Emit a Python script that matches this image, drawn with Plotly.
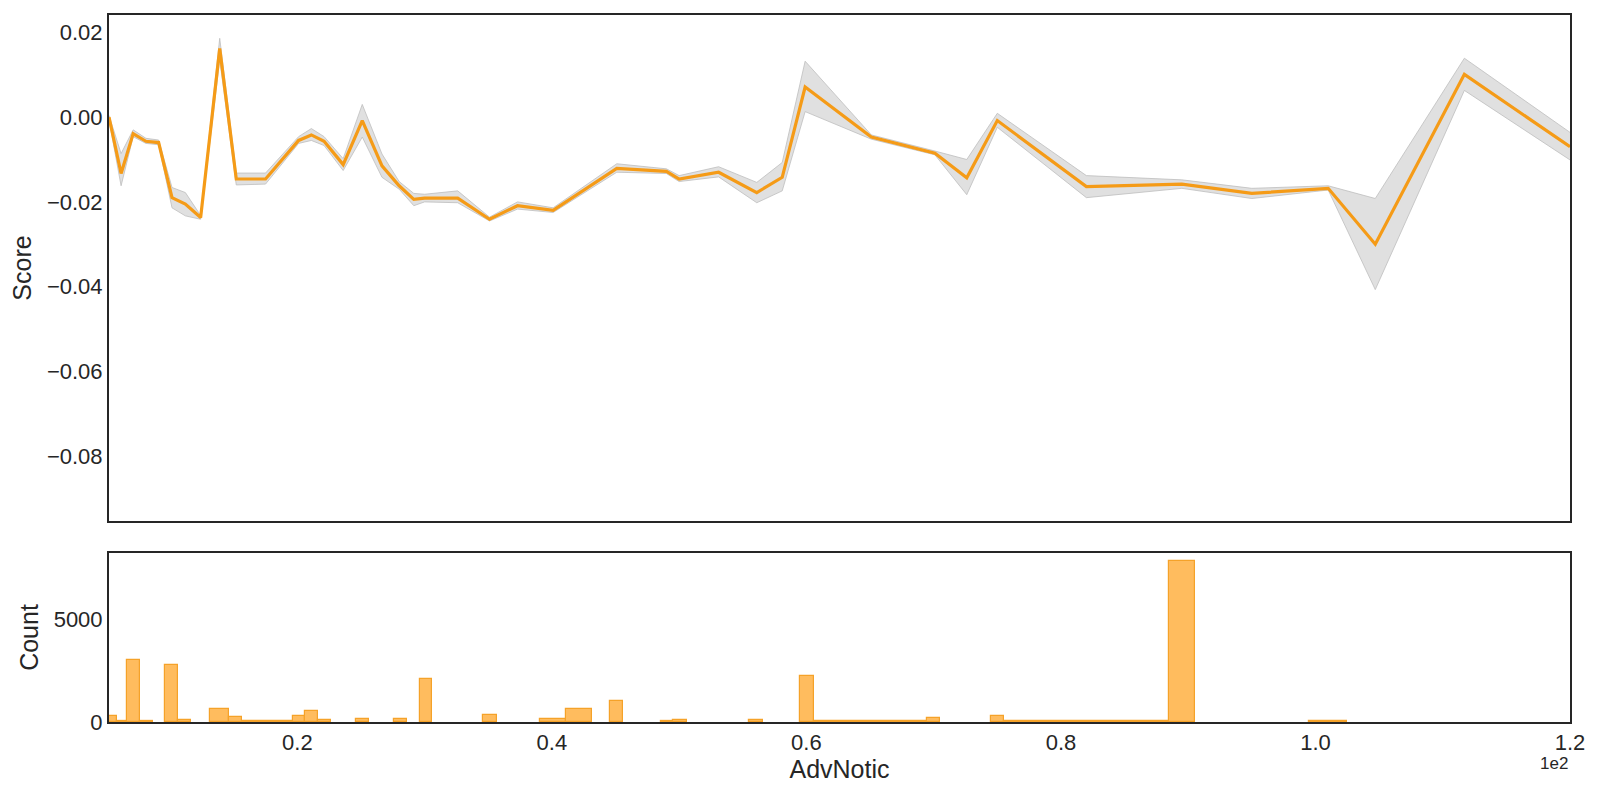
import plotly.graph_objects as go

# ---- line (mean score with confidence band) ----
adv_x = [5.2, 6.15, 7.1, 8.1, 9.1, 10.15, 11.2, 12.4, 13.9, 15.2, 17.5, 20.1, 21.1, 22.1,
         23.6, 25.1, 26.65, 28.0, 29.15, 30.0, 32.6, 35.1, 37.3, 40.1, 45.1, 49.0, 50.0,
         53.1, 56.1, 58.1, 59.9, 65.1, 70.1, 72.6, 75.0, 82.0, 89.5, 95.0, 101.0, 104.7,
         111.7, 120.0]
score = [0.0000, -0.0133, -0.0039, -0.0057, -0.0060, -0.0190, -0.0205, -0.0237, 0.0162,
         -0.0146, -0.0146, -0.0055, -0.0042, -0.0057, -0.0112, -0.0008, -0.0115, -0.0162,
         -0.0194, -0.0191, -0.0191, -0.0241, -0.0209, -0.0220, -0.0121, -0.0128, -0.0146,
         -0.0130, -0.0178, -0.0142, 0.0071, -0.0047, -0.0085, -0.0143, -0.0008, -0.0164,
         -0.0158, -0.0180, -0.0168, -0.0300, 0.0101, -0.0070]
score_lo = [-0.0007, -0.0162, -0.0046, -0.0062, -0.0065, -0.0214, -0.0233, -0.0241, 0.0135,
            -0.0160, -0.0158, -0.0062, -0.0055, -0.0067, -0.0126, -0.0047, -0.0142, -0.0170,
            -0.0209, -0.0200, -0.0202, -0.0245, -0.0217, -0.0225, -0.0130, -0.0133, -0.0152,
            -0.0141, -0.0202, -0.0174, 0.0013, -0.0052, -0.0089, -0.0183, -0.0024, -0.0190,
            -0.0168, -0.0192, -0.0172, -0.0407, 0.0063, -0.0101]
score_hi = [0.0004, -0.0086, -0.0030, -0.0050, -0.0054, -0.0166, -0.0178, -0.0232, 0.0186,
            -0.0132, -0.0132, -0.0046, -0.0027, -0.0046, -0.0098, 0.0030, -0.0087, -0.0152,
            -0.0180, -0.0182, -0.0174, -0.0236, -0.0200, -0.0214, -0.0110, -0.0122, -0.0138,
            -0.0117, -0.0154, -0.0107, 0.0132, -0.0042, -0.0080, -0.0100, 0.0009, -0.0138,
            -0.0148, -0.0168, -0.0162, -0.0192, 0.0139, -0.0036]

# ---- histogram of AdvNotic ----
bin_left = [5.2, 5.8, 6.62, 7.64, 9.63, 10.65, 13.16, 14.66, 15.65, 19.63, 20.63, 21.65,
            24.6, 27.6, 29.6, 34.56, 39.1, 41.1, 44.57, 48.58, 49.55, 55.5, 59.53, 60.57,
            69.5, 74.5, 75.55, 88.47, 99.5]
bin_right = [5.8, 6.62, 7.64, 8.63, 10.65, 11.65, 14.66, 15.65, 19.63, 20.63, 21.65, 22.65,
             25.6, 28.6, 30.6, 35.66, 41.1, 43.16, 45.62, 49.55, 50.63, 56.57, 60.57, 69.5,
             70.5, 75.55, 88.47, 90.5, 102.5]
counts = [294, 65, 3054, 30, 2776, 98, 620, 261, 30, 294, 555, 114,
          163, 163, 2107, 359, 163, 653, 1029, 49, 114, 98, 2237, 30,
          196, 294, 30, 7889, 30]

x_tickvals = [20, 40, 60, 80, 100, 120]
x_ticktext = ["0.2", "0.4", "0.6", "0.8", "1.0", "1.2"]
y_tickvals = [0.02, 0.0, -0.02, -0.04, -0.06, -0.08]
y_ticktext = ["0.02", "0.00", "\u22120.02", "\u22120.04", "\u22120.06", "\u22120.08"]
c_tickvals = [0, 5000]
c_ticktext = ["0", "5000"]

ORANGE = "#F59B17"
FONT = "Liberation Sans, Arial, sans-serif"
AXC = "#262626"

fig = go.Figure()

fig.add_trace(go.Scatter(x=adv_x, y=score_lo, mode="lines",
                         line=dict(color="rgba(190,190,190,0.8)", width=1),
                         showlegend=False, hoverinfo="skip", xaxis="x", yaxis="y"))
fig.add_trace(go.Scatter(x=adv_x, y=score_hi, mode="lines", fill="tonexty",
                         fillcolor="#E0E0E0",
                         line=dict(color="rgba(190,190,190,0.8)", width=1),
                         showlegend=False, hoverinfo="skip", xaxis="x", yaxis="y"))
fig.add_trace(go.Scatter(x=adv_x, y=score, mode="lines",
                         line=dict(color=ORANGE, width=3.2),
                         showlegend=False, xaxis="x", yaxis="y"))

centers = [(a + b) / 2 for a, b in zip(bin_left, bin_right)]
widths = [b - a for a, b in zip(bin_left, bin_right)]
fig.add_trace(go.Bar(x=centers, y=counts, width=widths,
                     marker=dict(color="#FFBC5E", line=dict(color="#F5A229", width=1.2)),
                     showlegend=False, xaxis="x2", yaxis="y2"))

axis_common = dict(showline=True, mirror=True, linecolor=AXC, linewidth=2,
                   showgrid=False, zeroline=False, ticks="", ticklen=0, automargin=False,
                   tickfont=dict(family=FONT, size=22, color="#262626"))
title_font = dict(family=FONT, size=25, color="#262626")

fig.update_layout(
    width=1592, height=788,
    margin=dict(l=101, r=30, t=7, b=74),
    plot_bgcolor="white", paper_bgcolor="white",
    font=dict(family=FONT, color="#262626"),
    bargap=0,
    xaxis=dict(domain=[0, 1], range=[5.2, 120], anchor="y", showticklabels=False,
               tickvals=x_tickvals, **axis_common),
    yaxis=dict(domain=[0.2843, 1], range=[-0.0953, 0.0241], anchor="x",
               tickvals=y_tickvals, ticktext=y_ticktext,
               title=dict(text="Score", font=title_font, standoff=8),
               **axis_common),
    xaxis2=dict(domain=[0, 1], range=[5.2, 120], anchor="y2", matches="x",
                tickvals=x_tickvals, ticktext=x_ticktext,
                title=dict(text="AdvNotic", font=title_font, standoff=4),
                **axis_common),
    yaxis2=dict(domain=[0, 0.239], range=[0, 8266], anchor="x2",
                tickvals=c_tickvals, ticktext=c_ticktext,
                title=dict(text="Count", font=title_font, standoff=8),
                **axis_common),
    annotations=[dict(text="1e2", xref="paper", yref="y2 domain", x=1.0, y=-0.245,
                      xanchor="right", yanchor="middle", showarrow=False,
                      font=dict(family=FONT, size=17, color="#262626"))],
)

fig.write_html("out.html")
